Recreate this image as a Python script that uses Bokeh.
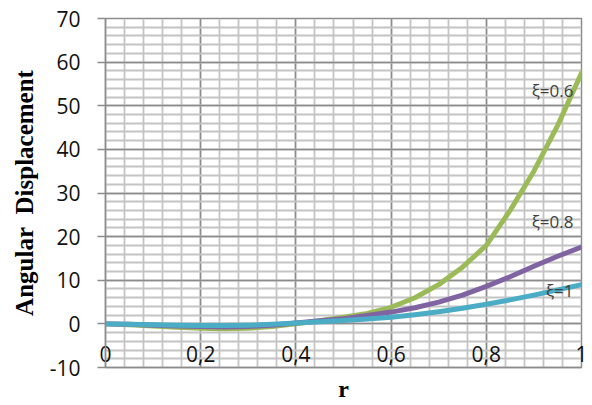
from bokeh.plotting import figure
from bokeh.models import Range1d, SingleIntervalTicker, FixedTicker, CustomJSTickFormatter
from bokeh.embed import file_html
from bokeh.resources import INLINE
from bokeh.core.properties import value

# ---- data ----
r = [0.0, 0.05, 0.1, 0.15, 0.2, 0.25, 0.3, 0.35, 0.4, 0.45, 0.5,
     0.55, 0.6, 0.65, 0.7, 0.75, 0.8, 0.85, 0.9, 0.95, 1.0]
xi_06 = [0.0, -0.2, -0.5, -0.8, -1.0, -1.1, -1.0, -0.6, 0.0, 0.7, 1.5,
         2.4, 3.8, 6.0, 9.0, 13.0, 18.0, 26.0, 35.0, 45.5, 57.5]
xi_08 = [0.0, -0.1, -0.3, -0.5, -0.6, -0.7, -0.6, -0.3, 0.2, 0.7, 1.2,
         1.9, 2.7, 3.7, 5.0, 6.6, 8.6, 10.8, 13.2, 15.5, 17.6]
xi_1 = [0.0, -0.1, -0.2, -0.3, -0.4, -0.4, -0.3, -0.1, 0.2, 0.5, 0.8,
        1.1, 1.5, 2.1, 2.8, 3.6, 4.5, 5.5, 6.6, 7.8, 9.0]

series_names = ["ξ=0.6", "ξ=0.8", "ξ=1"]
series_colors = ["#9BBB59", "#8064A2", "#4BACC6"]
label_y = [53.5, 23.5, 7.7]

x_ticks = [0.0, 0.2, 0.4, 0.6, 0.8, 1.0]
y_ticks = [-10, 0, 10, 20, 30, 40, 50, 60, 70]

p = figure(width=592, height=405, output_backend="svg", toolbar_location=None,
           x_range=Range1d(0, 1), y_range=Range1d(-10, 70),
           min_border_left=105, min_border_right=11, min_border_top=18,
           min_border_bottom=38)
p.background_fill_color = "white"
p.border_fill_color = "white"
p.outline_line_color = "#8c8c8c"
p.outline_line_width = 1.5

xt = SingleIntervalTicker(interval=0.2, num_minor_ticks=5)
yt = SingleIntervalTicker(interval=10, num_minor_ticks=5)
p.xaxis.ticker = FixedTicker(ticks=x_ticks)
p.yaxis.ticker = FixedTicker(ticks=y_ticks)
p.xgrid.ticker = xt
p.ygrid.ticker = yt
for g in (p.xgrid, p.ygrid):
    g.grid_line_color = "#8c8c8c"
    g.grid_line_width = 1.5
    g.minor_grid_line_color = "#c4c4c4"
    g.minor_grid_line_width = 1.8

tick_font = "Open Sans"
# y axis
p.yaxis.formatter = CustomJSTickFormatter(code="return String(Math.round(tick));")
p.yaxis.axis_line_color = "#8c8c8c"
p.yaxis.axis_line_width = 1.5
p.yaxis.major_tick_line_color = "#8c8c8c"
p.yaxis.major_tick_line_width = 1.5
p.yaxis.major_tick_out = 8
p.yaxis.major_tick_in = 0
p.yaxis.minor_tick_out = 0
p.yaxis.minor_tick_in = 0
p.yaxis.major_label_standoff = 17
p.yaxis.major_label_text_font = tick_font
p.yaxis.major_label_text_font_size = "21px"
p.yaxis.major_label_text_color = "#111111"
p.yaxis.axis_label = "Angular\u00a0 Displacement"
p.yaxis.axis_label_text_font = "Liberation Serif"
p.yaxis.axis_label_text_font_style = "bold"
p.yaxis.axis_label_text_font_size = "25px"
p.yaxis.axis_label_text_color = "#000000"
p.yaxis.axis_label_standoff = 9

# x axis: labels drawn inward, just above the bottom line
p.xaxis.formatter = CustomJSTickFormatter(
    code="return String(Math.round(tick * 10) / 10).replace('.', ',');")
p.xaxis.axis_line_color = "#8c8c8c"
p.xaxis.axis_line_width = 1.5
p.xaxis.major_tick_out = 0
p.xaxis.major_tick_in = 0
p.xaxis.minor_tick_out = 0
p.xaxis.minor_tick_in = 0
p.xaxis.major_label_standoff = -22
p.xaxis.major_label_text_font = tick_font
p.xaxis.major_label_text_font_size = "21px"
p.xaxis.major_label_text_color = "#111111"
p.xaxis.axis_label = "r"
p.xaxis.axis_label_text_font = "Liberation Serif"
p.xaxis.axis_label_text_font_style = "bold"
p.xaxis.axis_label_text_font_size = "24px"
p.xaxis.axis_label_text_color = "#000000"
p.xaxis.axis_label_standoff = 11

# curves
for ys, c in zip([xi_06, xi_08, xi_1], series_colors):
    p.line(r, ys, line_color=c, line_width=5, line_cap="round", line_join="round")

# curve labels
p.text(x=[1.0] * 3, y=label_y, text=series_names, text_font=value(tick_font),
       text_font_size="17px", text_align="right", text_baseline="middle",
       text_color="#404040", x_offset=-8)

open("out.html", "w").write(file_html(p, INLINE))
